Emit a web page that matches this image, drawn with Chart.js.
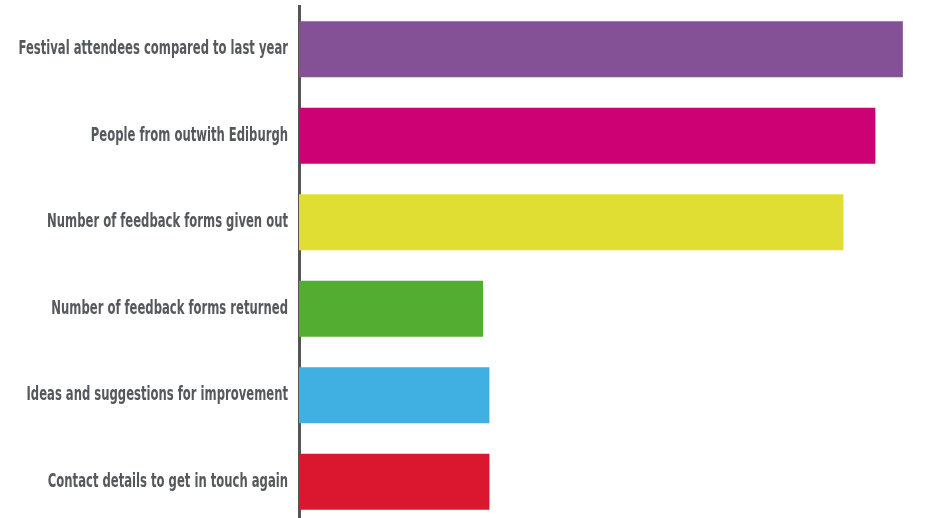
<!DOCTYPE html>
<html>
<head>
<meta charset="utf-8">
<script src="https://cdn.jsdelivr.net/npm/chart.js@4/dist/chart.umd.min.js"></script>
<style>
  html, body { margin: 0; padding: 0; background: #fff; overflow: hidden; }
  #wrap { width: 948px; height: 518px; overflow: hidden; }
</style>
</head>
<body>
<div id="wrap"><canvas id="myChart" width="948" height="525"></canvas></div>
<script>
const labels = [
  'Festival attendees compared to last year',
  'People from outwith Ediburgh',
  'Number of feedback forms given out',
  'Number of feedback forms returned',
  'Ideas and suggestions for improvement',
  'Contact details to get in touch again'
];
const values = [94.5, 90.2, 85.2, 28.8, 29.8, 29.8];
const colors = ['#845196', '#cd0074', '#e1de33', '#52ad31', '#40b0e3', '#db1730'];

// labels are drawn in a squeezed bold face next to the axis line
const labelPlugin = {
  id: 'sideLabels',
  afterDraw(chart) {
    const ctx = chart.ctx;
    const yScale = chart.scales.y;
    const squeeze = 0.68;
    const right = chart.chartArea.left - 11;
    ctx.save();
    ctx.font = "bold 19px 'DejaVu Sans Condensed', 'DejaVu Sans', sans-serif";
    ctx.fillStyle = '#55585c';
    ctx.textAlign = 'right';
    ctx.textBaseline = 'middle';
    labels.forEach((text, i) => {
      const y = yScale.getPixelForTick(i);
      ctx.save();
      ctx.translate(right, y);
      ctx.scale(squeeze, 1);
      ctx.fillText(text, 0, 0);
      ctx.restore();
    });
    ctx.restore();
  }
};

const ctx = document.getElementById('myChart').getContext('2d');
const myChart = new Chart(ctx, {
  type: 'bar',
  data: {
    labels: labels,
    datasets: [{
      data: values,
      backgroundColor: colors,
      borderWidth: 0,
      categoryPercentage: 1,
      barPercentage: 0.65
    }]
  },
  options: {
    indexAxis: 'y',
    responsive: false,
    animation: false,
    layout: { padding: { left: 291, right: 10, top: 6, bottom: 0 } },
    plugins: { legend: { display: false }, tooltip: { enabled: false } },
    scales: {
      x: { display: false, min: 0, max: 100 },
      y: {
        grid: { display: false },
        ticks: { display: false },
        border: { display: true, color: '#545454', width: 3 }
      }
    }
  },
  plugins: [labelPlugin]
});
</script>
</body>
</html>
